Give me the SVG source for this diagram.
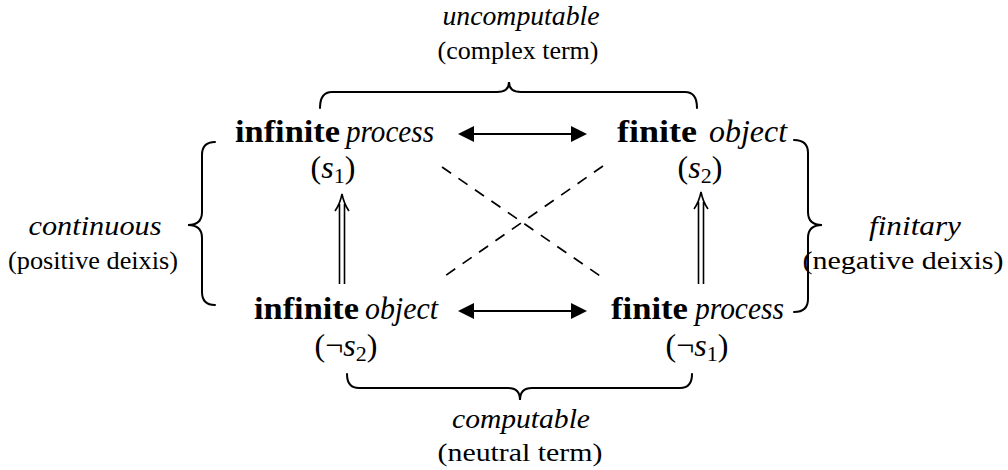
<svg xmlns="http://www.w3.org/2000/svg" width="1008" height="470" viewBox="0 0 1008 470" font-family="'Liberation Serif', 'Times New Roman', 'DejaVu Serif', serif">
<style>
text{font-family:'Liberation Serif','Times New Roman','DejaVu Serif',serif;fill:#000}
.b{font-weight:bold;font-size:31px}
.i{font-style:italic}
.n{font-size:31px}
.lab{font-size:28px;font-style:italic}
.par{font-size:26px}
.sub{font-size:32px}
.s{font-size:22px;font-style:normal}
.brace{fill:none;stroke:#000;stroke-width:2;stroke-linecap:round}
.conn{fill:none;stroke:#000;stroke-width:2}
.dash{fill:none;stroke:#000;stroke-width:1.7;stroke-dasharray:11 9}
.dbl{fill:none;stroke:#000;stroke-width:1.6}
</style>
<defs>
<marker id="ah" viewBox="0 0 16 16" refX="14" refY="8" markerWidth="16" markerHeight="16" markerUnits="userSpaceOnUse" orient="auto-start-reverse">
<path d="M0,0 L16,8 L0,16 Z" fill="#000"/>
</marker>
</defs>

<g id="node-infinite-process">
<text class="b" x="235" y="142" textLength="105" lengthAdjust="spacingAndGlyphs">infinite</text>
<text class="n i" x="346" y="142" textLength="88" lengthAdjust="spacingAndGlyphs">process</text>
<text class="sub" x="333" y="178" text-anchor="middle">(<tspan font-style="italic">s</tspan><tspan class="s" dy="5">1</tspan><tspan dy="-5">)</tspan></text>
</g>

<g id="node-finite-object">
<text class="b" x="617" y="142" textLength="80" lengthAdjust="spacingAndGlyphs">finite</text>
<text class="n i" x="709" y="142" textLength="78" lengthAdjust="spacingAndGlyphs">object</text>
<text class="sub" x="700" y="178" text-anchor="middle">(<tspan font-style="italic">s</tspan><tspan class="s" dy="5">2</tspan><tspan dy="-5">)</tspan></text>
</g>

<g id="node-infinite-object">
<text class="b" x="254" y="319" textLength="105" lengthAdjust="spacingAndGlyphs">infinite</text>
<text class="n i" x="365" y="319" textLength="73" lengthAdjust="spacingAndGlyphs">object</text>
<text class="sub" x="346" y="356" text-anchor="middle">(¬<tspan font-style="italic">s</tspan><tspan class="s" dy="5">2</tspan><tspan dy="-5">)</tspan></text>
</g>

<g id="node-finite-process">
<text class="b" x="611" y="319" textLength="77" lengthAdjust="spacingAndGlyphs">finite</text>
<text class="n i" x="695" y="319" textLength="89" lengthAdjust="spacingAndGlyphs">process</text>
<text class="sub" x="697" y="356" text-anchor="middle">(¬<tspan font-style="italic">s</tspan><tspan class="s" dy="5">1</tspan><tspan dy="-5">)</tspan></text>
</g>

<g id="label-uncomputable">
<text class="lab" x="521" y="25" text-anchor="middle" textLength="157" lengthAdjust="spacingAndGlyphs">uncomputable</text>
<text class="par" x="518" y="59" text-anchor="middle" textLength="161" lengthAdjust="spacingAndGlyphs">(complex term)</text>
<path class="brace" d="M320,108 Q320,92 332,92 L497,92 Q509,92 509,82 Q509,92 521,92 L685,92 Q697,92 697,108"/>
</g>

<g id="label-computable">
<text class="lab" x="521" y="428" text-anchor="middle" textLength="138" lengthAdjust="spacingAndGlyphs">computable</text>
<text class="par" x="520" y="461" text-anchor="middle" textLength="165" lengthAdjust="spacingAndGlyphs">(neutral term)</text>
<path class="brace" d="M347,374 Q347,388 359,388 L508,388 Q520,388 520,400 Q520,388 532,388 L680,388 Q692,388 692,374"/>
</g>

<g id="label-continuous">
<text class="lab" x="95" y="235" text-anchor="middle" textLength="133" lengthAdjust="spacingAndGlyphs">continuous</text>
<text class="par" x="93" y="269" text-anchor="middle" textLength="170" lengthAdjust="spacingAndGlyphs">(positive deixis)</text>
<path class="brace" d="M215,142 Q202,142 202,155 L202,212 Q202,225 188,225 Q202,225 202,238 L202,292 Q202,305 215,305"/>
</g>

<g id="label-finitary">
<text class="lab" x="915" y="235" text-anchor="middle" textLength="92" lengthAdjust="spacingAndGlyphs">finitary</text>
<text class="par" x="903" y="269" text-anchor="middle" textLength="201" lengthAdjust="spacingAndGlyphs">(negative deixis)</text>
<path class="brace" d="M794,140 Q808,140 808,153 L808,212 Q808,225 822,225 Q808,225 808,238 L808,299 Q808,312 794,312"/>
</g>

<g id="connectors">
<line class="conn" x1="460" y1="134" x2="585" y2="134" marker-start="url(#ah)" marker-end="url(#ah)"/>
<line class="conn" x1="460" y1="311" x2="585" y2="311" marker-start="url(#ah)" marker-end="url(#ah)"/>
<line class="dash" x1="442" y1="167" x2="603" y2="278"/>
<line class="dash" x1="603" y1="166" x2="442" y2="278"/>
<path class="dbl" d="M339.5,284 L339.5,204 M344.5,284 L344.5,204 M335,211 Q340,204 342,194 Q344,204 349,211"/>
<path class="dbl" d="M698.5,284 L698.5,202 M703.5,284 L703.5,202 M694,209 Q699,202 701,192 Q703,202 708,209"/>
</g>
</svg>
